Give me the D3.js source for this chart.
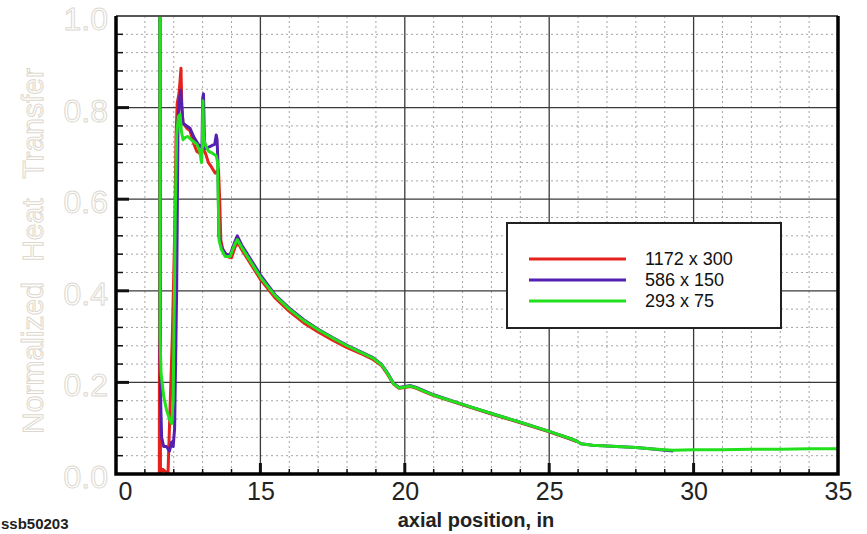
<!DOCTYPE html>
<html>
<head>
<meta charset="utf-8">
<script src="https://cdn.jsdelivr.net/npm/d3@7"></script>
<style>
  html, body { margin: 0; padding: 0; background: #fff; }
  svg { display: block; }
</style>
</head>
<body>
<svg id="chart" width="867" height="534"></svg>
<script>
// Normalized heat transfer along the axis for three grid resolutions
const seriesNames = ["1172 x 300", "586 x 150", "293 x 75"];
const seriesColors = ["#e5231c", "#5420b0", "#22e01c"];

const xTickValues = [10, 15, 20, 25, 30, 35];
const xTickLabels = ["0", "15", "20", "25", "30", "35"];
const yTickValues = [0, 0.2, 0.4, 0.6, 0.8, 1.0];
const yTickLabels = ["0.0", "0.2", "0.4", "0.6", "0.8", "1.0"];

// 1172 x 300
const redX = [11.50, 11.52, 11.54, 11.62, 11.80, 11.95, 12.03, 12.08, 12.12, 12.18, 12.22, 12.25, 12.28, 12.32, 12.45, 12.56, 12.70, 12.80, 12.91, 13.00, 13.10, 13.20, 13.30, 13.43, 13.55, 13.59, 13.63, 13.70, 13.85, 14.00, 14.12, 14.22, 14.35,
  14.5, 15.0, 15.5, 16.0, 16.5, 17.0, 17.5, 18.0, 18.5, 18.9, 19.2, 19.4, 19.6, 19.8, 20.0, 20.2, 20.4, 20.7, 21.0, 22.0, 23.0, 24.0, 25.0, 25.7, 25.95];
const redY = [0.0, 1.30, 0.0, 0.01, 0.0, 0.30, 0.52, 0.74, 0.81, 0.83, 0.86, 0.886, 0.80, 0.766, 0.755, 0.75, 0.72, 0.704, 0.70, 0.71, 0.70, 0.68, 0.671, 0.657, 0.664, 0.60, 0.51, 0.49, 0.475, 0.472, 0.495, 0.505, 0.49,
  0.475, 0.425, 0.385, 0.355, 0.33, 0.31, 0.292, 0.276, 0.262, 0.25, 0.236, 0.218, 0.197, 0.187, 0.189, 0.191, 0.187, 0.179, 0.171, 0.151, 0.131, 0.112, 0.092, 0.077, 0.071];

// 586 x 150
const purpleX = [11.515, 11.525, 11.55, 11.58, 11.65, 11.75, 11.85, 11.93, 11.98, 12.03, 12.10, 12.15, 12.20, 12.24, 12.28, 12.32, 12.45, 12.56, 12.70, 12.80, 12.91, 12.98, 13.00, 13.03, 13.06, 13.10, 13.25, 13.42, 13.47, 13.50, 13.53, 13.56, 13.65, 13.80, 13.95, 14.10, 14.20, 14.35,
  14.5, 15.0, 15.5, 16.0, 16.5, 17.0, 17.5, 18.0, 18.5, 18.9, 19.2, 19.4, 19.6, 19.8, 20.0, 20.2, 20.4, 20.7, 21.0, 22.0, 23.0, 24.0, 25.0, 25.7, 25.95, 26.1, 26.5, 27.0, 28.0, 28.5, 29.0, 29.3];
const purpleY = [1.30, 0.26, 0.15, 0.08, 0.06, 0.06, 0.05, 0.07, 0.06, 0.10, 0.40, 0.78, 0.82, 0.838, 0.80, 0.766, 0.76, 0.755, 0.735, 0.725, 0.714, 0.72, 0.82, 0.83, 0.73, 0.71, 0.715, 0.72, 0.74, 0.73, 0.68, 0.52, 0.495, 0.48, 0.478, 0.505, 0.52, 0.50,
  0.485, 0.435, 0.392, 0.362, 0.337, 0.316, 0.298, 0.281, 0.266, 0.254, 0.239, 0.221, 0.199, 0.189, 0.191, 0.193, 0.189, 0.181, 0.173, 0.152, 0.132, 0.113, 0.093, 0.078, 0.072, 0.066, 0.063, 0.061, 0.058, 0.055, 0.052, 0.050];

// 293 x 75
const greenX = [11.515, 11.525, 11.56, 11.65, 11.75, 11.85, 11.93, 11.98, 12.05, 12.10, 12.16, 12.22, 12.26, 12.32, 12.40, 12.49, 12.60, 12.70, 12.80, 12.90, 12.96, 12.99, 13.01, 13.03, 13.08, 13.20, 13.35, 13.47, 13.52, 13.54, 13.57, 13.65, 13.78, 13.95, 14.10, 14.20, 14.35,
  14.5, 15.0, 15.5, 16.0, 16.5, 17.0, 17.5, 18.0, 18.5, 18.9, 19.2, 19.4, 19.6, 19.8, 20.0, 20.2, 20.4, 20.7, 21.0, 22.0, 23.0, 24.0, 25.0, 25.7, 25.95, 26.1, 26.5, 27.0, 28.0, 28.5, 29.0, 29.3, 30.0, 31.0, 32.0, 33.0, 34.0, 35.0];
const greenY = [1.30, 0.30, 0.22, 0.17, 0.14, 0.12, 0.11, 0.16, 0.55, 0.74, 0.78, 0.785, 0.75, 0.73, 0.735, 0.737, 0.73, 0.725, 0.72, 0.705, 0.68, 0.72, 0.815, 0.74, 0.72, 0.705, 0.70, 0.695, 0.68, 0.60, 0.51, 0.49, 0.475, 0.475, 0.50, 0.512, 0.495,
  0.48, 0.43, 0.39, 0.36, 0.335, 0.315, 0.297, 0.28, 0.265, 0.253, 0.238, 0.22, 0.198, 0.188, 0.19, 0.192, 0.188, 0.18, 0.172, 0.152, 0.132, 0.113, 0.093, 0.078, 0.072, 0.066, 0.063, 0.061, 0.058, 0.055, 0.053, 0.052, 0.053, 0.053, 0.054, 0.054, 0.055, 0.055];

const series = [
  { name: seriesNames[0], color: seriesColors[0], pts: d3.zip(redX, redY) },
  { name: seriesNames[1], color: seriesColors[1], pts: d3.zip(purpleX, purpleY) },
  { name: seriesNames[2], color: seriesColors[2], pts: d3.zip(greenX, greenY) }
];

const svg = d3.select("#chart");
const plotL = 116, plotR = 838, plotT = 16, plotB = 474;

const x = d3.scaleLinear().domain([10, 35]).range([plotL, plotR]);
const y = d3.scaleLinear().domain([0, 1]).range([plotB, plotT]);

svg.append("defs").append("clipPath").attr("id", "plotClip")
  .append("rect").attr("x", plotL).attr("y", plotT).attr("width", plotR - plotL).attr("height", plotB - plotT);

// minor dotted grid
const minorX = d3.range(11, 35, 1).filter(v => v % 5 !== 0);
const minorY = d3.range(0.04, 1.0, 0.04).filter(v => Math.abs(v * 5 - Math.round(v * 5)) > 1e-6);

const grid = svg.append("g");
grid.selectAll("line.mx").data(minorX).join("line")
  .attr("x1", d => x(d)).attr("x2", d => x(d)).attr("y1", plotT).attr("y2", plotB)
  .attr("stroke", "#a4a4a4").attr("stroke-width", 1).attr("stroke-dasharray", "2,3");
grid.selectAll("line.my").data(minorY).join("line")
  .attr("y1", d => y(d)).attr("y2", d => y(d)).attr("x1", plotL).attr("x2", plotR)
  .attr("stroke", "#a4a4a4").attr("stroke-width", 1).attr("stroke-dasharray", "2,3");

// major solid grid
grid.selectAll("line.Mx").data([15, 20, 25, 30]).join("line")
  .attr("x1", d => x(d)).attr("x2", d => x(d)).attr("y1", plotT).attr("y2", plotB)
  .attr("stroke", "#3a3a3a").attr("stroke-width", 1.3);
grid.selectAll("line.My").data([0.2, 0.4, 0.6, 0.8]).join("line")
  .attr("y1", d => y(d)).attr("y2", d => y(d)).attr("x1", plotL).attr("x2", plotR)
  .attr("stroke", "#3a3a3a").attr("stroke-width", 1.3);

// tick marks on the frame
const ticks = svg.append("g").attr("stroke", "#111");
ticks.selectAll("line.bx").data(minorX).join("line")
  .attr("x1", d => x(d)).attr("x2", d => x(d)).attr("y1", plotB).attr("y2", plotB - 5).attr("stroke-width", 1.5);
ticks.selectAll("line.bX").data([15, 20, 25, 30]).join("line")
  .attr("x1", d => x(d)).attr("x2", d => x(d)).attr("y1", plotB).attr("y2", plotB - 11).attr("stroke-width", 3);
ticks.selectAll("line.ly").data(minorY).join("line")
  .attr("y1", d => y(d)).attr("y2", d => y(d)).attr("x1", plotL).attr("x2", plotL + 7).attr("stroke-width", 1.5);
ticks.selectAll("line.lY").data([0.2, 0.4, 0.6, 0.8]).join("line")
  .attr("y1", d => y(d)).attr("y2", d => y(d)).attr("x1", plotL).attr("x2", plotL + 13).attr("stroke-width", 3);

// curves
const line = d3.line().x(d => x(d[0])).y(d => y(d[1]));
svg.append("g").attr("clip-path", "url(#plotClip)")
  .selectAll("path").data(series).join("path")
  .attr("d", d => line(d.pts))
  .attr("fill", "none")
  .attr("stroke", d => d.color)
  .attr("stroke-width", 3)
  .attr("stroke-linejoin", "round");

// frame
svg.append("line").attr("x1", plotL).attr("x2", plotR).attr("y1", plotT).attr("y2", plotT)
  .attr("stroke", "#555").attr("stroke-width", 2);
svg.append("path")
  .attr("d", `M${plotL},${plotT} V${plotB} H${plotR} V${plotT}`)
  .attr("fill", "none").attr("stroke", "#000").attr("stroke-width", 3.5);

// x axis labels
const xAxis = d3.axisBottom(x).tickValues(xTickValues)
  .tickFormat((d, i) => xTickLabels[i]).tickSize(0).tickPadding(8);
const gx = svg.append("g").attr("transform", `translate(0,${plotB})`).call(xAxis);
gx.select(".domain").remove();
gx.selectAll("text")
  .attr("font-family", "Liberation Sans, Arial, sans-serif")
  .attr("font-size", 25).attr("fill", "#222")
  .attr("dx", (d, i) => i === 0 ? 9 : 0);

// y axis labels: white glyphs with a pale outline
const yAxis = d3.axisLeft(y).tickValues(yTickValues)
  .tickFormat((d, i) => yTickLabels[i]).tickSize(0).tickPadding(8);
const gy = svg.append("g").attr("transform", `translate(${plotL},0)`).call(yAxis);
gy.select(".domain").remove();
gy.selectAll("text")
  .attr("font-family", "Liberation Sans, Arial, sans-serif")
  .attr("font-size", 32).attr("fill", "#fff")
  .attr("stroke", "#ddd8cf").attr("stroke-width", 1)
  .attr("dy", "0.42em");

// axis titles
svg.append("text")
  .attr("transform", `translate(32,${(plotT + plotB) / 2 + 6}) rotate(-90)`)
  .attr("text-anchor", "middle").attr("dy", "0.36em")
  .attr("font-family", "Liberation Sans, Arial, sans-serif")
  .attr("font-size", 30).attr("word-spacing", 12)
  .attr("fill", "#fff").attr("stroke", "#ddd8cf").attr("stroke-width", 1)
  .text("Normalized Heat Transfer");

svg.append("text")
  .attr("x", 476).attr("y", 527).attr("text-anchor", "middle")
  .attr("font-family", "Liberation Sans, Arial, sans-serif")
  .attr("font-size", 20).attr("font-weight", "bold").attr("fill", "#222")
  .text("axial position, in");

svg.append("text")
  .attr("x", 1).attr("y", 529)
  .attr("font-family", "Liberation Sans, Arial, sans-serif")
  .attr("font-size", 15).attr("font-weight", "bold").attr("fill", "#222")
  .text("ssb50203");

// legend
const lg = svg.append("g");
lg.append("rect").attr("x", 507).attr("y", 223).attr("width", 274).attr("height", 105)
  .attr("fill", "#fff").attr("stroke", "#222").attr("stroke-width", 2);
const rows = lg.selectAll("g.row").data(series).join("g")
  .attr("transform", (d, i) => `translate(0,${259 + i * 21})`);
rows.append("line").attr("x1", 529).attr("x2", 626).attr("y1", 0).attr("y2", 0)
  .attr("stroke", d => d.color).attr("stroke-width", 3);
rows.append("text").attr("x", 645).attr("y", 0).attr("dy", "0.36em")
  .attr("font-family", "Liberation Sans, Arial, sans-serif")
  .attr("font-size", 18).attr("fill", "#111")
  .text(d => d.name);
</script>
</body>
</html>
